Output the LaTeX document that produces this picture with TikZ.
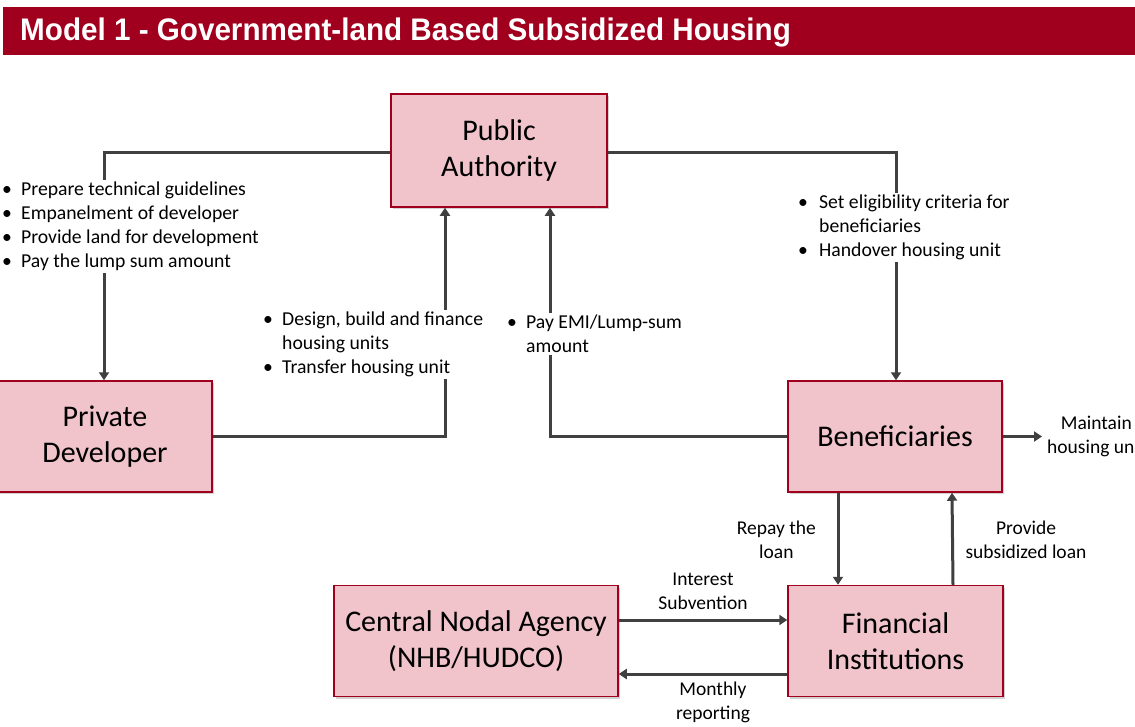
\documentclass[tikz,border=0pt]{standalone}
\usepackage{fontspec}
\setmainfont{Carlito}
\newfontfamily\titlefont{Liberation Sans}
\usetikzlibrary{arrows.meta,shadows}
\definecolor{crimson}{HTML}{A0001E}
\definecolor{boxfill}{HTML}{F0C4CA}
\definecolor{conncol}{HTML}{404040}
\newcommand{\bitem}[1]{\makebox[19pt][l]{\textbullet}#1}
\newcommand{\bcont}[1]{\makebox[19pt][l]{}#1}
\tikzset{
  entity/.style={draw=crimson, line width=1.5pt, fill=boxfill, align=center,
    font=\fontsize{30}{36}\selectfont, inner sep=0pt,
    drop shadow={shadow xshift=1.5pt, shadow yshift=-2pt, opacity=0.35, fill=gray}},
  conn/.style={draw=conncol, line width=3pt, -{Triangle[width=10pt,length=8pt]}},
  bullets/.style={fill=white, align=left, inner sep=2pt, anchor=north west,
    font=\fontsize{19.7}{24}\selectfont},
  lbl/.style={fill=white, align=center, inner sep=1pt,
    font=\fontsize{19.5}{24}\selectfont},
}
\begin{document}
\begin{tikzpicture}[x=1pt,y=-1pt]
\useasboundingbox (0,0) rectangle (1135,726);
\fill[white] (0,0) rectangle (1135,726);
% title bar
\fill[crimson] (3,7) rectangle (1140,55);
\node[anchor=west, text=white, inner sep=0pt] (title) at (20,32)
  {\titlefont\bfseries\fontsize{31.2}{36}\selectfont\scalebox{0.95}[1]{Model 1 - Government-land Based Subsidized Housing}};
% boxes
\node[entity, minimum width=216pt, minimum height=113pt] (pa) at (499,150.5) {Public\\Authority};
\node[entity, minimum width=214pt, minimum height=111pt] (pd) at (105,436.5) {Private\\Developer};
\node[entity, minimum width=214pt, minimum height=111pt] (ben) at (895,436.5) {Beneficiaries};
\node[entity, minimum width=284pt, minimum height=111pt] (cna) at (476,641) {Central Nodal Agency\\(NHB/HUDCO)};
\node[entity, minimum width=215pt, minimum height=111pt] (fi) at (895.5,641) {Financial\\Institutions};
\coordinate (maint) at (1042,436.5);
% connectors
\draw[conn] ([yshift=-1.5pt]pa.west) -| ([xshift=-1pt]pd.north);
\draw[conn] ([yshift=-1.5pt]pa.east) -| ([xshift=1pt]ben.north);
\draw[conn] (pd.east) -| ([xshift=-54pt]pa.south);
\draw[conn] (ben.west) -| ([xshift=51pt]pa.south);
\draw[conn] (ben.east) -- (maint);
\draw[conn] ([xshift=-57pt]ben.south) -- ([xshift=-57.5pt]fi.north);
\draw[conn] ([xshift=57.5pt]fi.north) -- ([xshift=57pt]ben.south);
\draw[conn] ([yshift=21pt]cna.east) -- ([yshift=21pt]fi.west);
\draw[conn] ([yshift=-33pt]fi.west) -- ([yshift=-33pt]cna.east);
% labels
\node[bullets] (l1) at (0,180) {\bitem{Prepare technical guidelines}\\\bitem{Empanelment of developer}\\\bitem{Provide land for development}\\\bitem{Pay the lump sum amount}};
\node[bullets] (l2) at (261,310) {\bitem{Design, build and finance}\\\bcont{housing units}\\\bitem{Transfer housing unit}};
\node[bullets] (l3) at (505,313) {\bitem{Pay EMI/Lump-sum}\\\bcont{amount}};
\node[bullets] (l4) at (796,193) {\makebox[21pt][l]{\textbullet}Set eligibility criteria for\\\makebox[21pt][l]{}beneficiaries\\\makebox[21pt][l]{\textbullet}Handover housing unit};
\node[lbl, anchor=west] (l5) at (1046,436.5) {Maintain\\housing unit};
\node[lbl, anchor=east] (l6) at (817,540) {Repay the\\loan};
\node[lbl] (l7) at (1026,540) {Provide\\subsidized loan};
\node[lbl] (l8) at (703,591) {Interest\\Subvention};
\node[lbl] (l9) at (713,702) {Monthly\\reporting};
\end{tikzpicture}
\end{document}
